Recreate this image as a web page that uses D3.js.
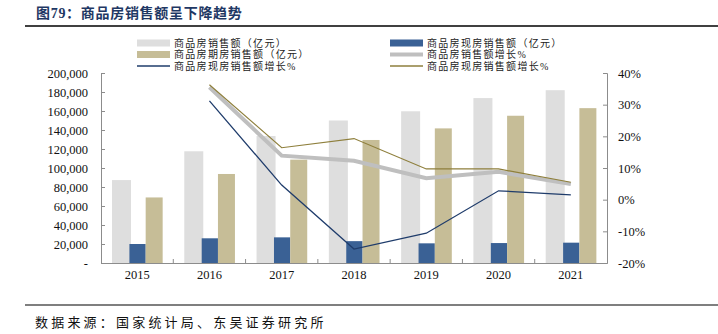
<!DOCTYPE html>
<html>
<head>
<meta charset="utf-8">
<script src="https://cdn.jsdelivr.net/npm/d3@7"></script>
<style>
  body { margin: 0; background: #fff; }
  svg text { font-family: "Liberation Serif", "Noto Sans CJK SC", serif; }
</style>
</head>
<body>
<div id="chart"></div>
<script>
// data
var years = ['2015', '2016', '2017', '2018', '2019', '2020', '2021'];
var totalSales = [87300, 117600, 133700, 150000, 159700, 173600, 181900];
var readySales = [20000, 26000, 27000, 23000, 20700, 21000, 21400];
var presaleSales = [69000, 93700, 108800, 129500, 141700, 155000, 163000];
var totalGrowth = [null, 35.5, 13.9, 12.3, 6.8, 8.8, 4.9];
var presaleGrowth = [null, 36.3, 16.4, 19.3, 9.7, 9.7, 5.5];
var readyGrowth = [null, 31.2, 4.6, -15.6, -10.6, 2.8, 1.5];
var leftTicks = [0, 20000, 40000, 60000, 80000, 100000, 120000, 140000, 160000, 180000, 200000];
var rightTicks = [-20, -10, 0, 10, 20, 30, 40];

var W = 718, H = 334;
var svg = d3.select('#chart').append('svg')
    .attr('width', W)
    .attr('height', H);

var cjk = '"Noto Sans CJK SC", sans-serif';
var mixed = '"Liberation Serif", "Noto Sans CJK SC", serif';

// title + rules
svg.append('text')
    .attr('x', 36).attr('y', 18)
    .attr('font-size', 14).attr('font-weight', 'bold')
    .attr('fill', '#1f3864')
    .attr('letter-spacing', 0.7)
    .style('font-family', mixed)
    .text('图79：商品房销售额呈下降趋势');
svg.append('line').attr('x1', 25).attr('x2', 718).attr('y1', 26).attr('y2', 26)
    .attr('stroke', '#000').attr('stroke-width', 1.5);
svg.append('line').attr('x1', 25).attr('x2', 718).attr('y1', 305).attr('y2', 305)
    .attr('stroke', '#000').attr('stroke-width', 1.2);
svg.append('text')
    .attr('x', 35).attr('y', 327)
    .attr('font-size', 13).attr('fill', '#111')
    .attr('letter-spacing', 3.2)
    .style('font-family', cjk)
    .text('数据来源：国家统计局、东吴证券研究所');

// scales
var x = d3.scaleBand().domain(years).range([101, 607]).padding(0);
var y = d3.scaleLinear().domain([0, 200000]).range([263, 73]);
var y2 = d3.scaleLinear().domain([-20, 40]).range([263, 73]);
var bw = x.bandwidth();

// bars
var barDefs = [
    {data: totalSales, fill: '#dedede', a: 0.152, b: 0.415},
    {data: readySales, fill: '#3a6195', a: 0.393, b: 0.618},
    {data: presaleSales, fill: '#c6bd97', a: 0.618, b: 0.853}
];
barDefs.forEach(function(def){
    svg.append('g').selectAll('rect')
        .data(def.data)
        .enter().append('rect')
        .attr('x', function(d, i){ return x(years[i]) + bw * def.a; })
        .attr('width', bw * (def.b - def.a))
        .attr('y', function(d){ return y(d); })
        .attr('height', function(d){ return y(0) - y(d); })
        .attr('fill', def.fill);
});

// axes
var axisColor = '#8c8c8c';
var left = svg.append('g').attr('transform', 'translate(101,0)')
    .call(d3.axisRight(y).tickValues(leftTicks).tickSize(4)
        .tickFormat(function(d){ return d === 0 ? '-' : d3.format(',')(d); }));
left.select('.domain').attr('stroke', axisColor);
left.selectAll('.tick line').attr('stroke', axisColor);
left.selectAll('.tick text')
    .attr('x', -13).attr('text-anchor', 'end')
    .attr('font-size', 12.5).attr('fill', '#111')
    .style('font-family', '"Liberation Serif", serif');

var right = svg.append('g').attr('transform', 'translate(607,0)')
    .call(d3.axisLeft(y2).tickValues(rightTicks).tickSize(4)
        .tickFormat(function(d){ return d + '%'; }));
right.select('.domain').attr('stroke', axisColor);
right.selectAll('.tick line').attr('stroke', axisColor);
right.selectAll('.tick text')
    .attr('x', 11).attr('text-anchor', 'start')
    .attr('font-size', 12.5).attr('fill', '#111')
    .style('font-family', '"Liberation Serif", serif');

var bottom = svg.append('g').attr('transform', 'translate(0,263)')
    .call(d3.axisBottom(x).tickSize(0));
bottom.select('.domain').attr('stroke', axisColor);
bottom.selectAll('.tick text')
    .attr('dy', '1.15em').attr('y', 2)
    .attr('font-size', 12.5).attr('fill', '#111')
    .style('font-family', '"Liberation Serif", serif');
svg.append('g').selectAll('line')
    .data(years.slice(1))
    .enter().append('line')
    .attr('x1', function(d){ return x(d); })
    .attr('x2', function(d){ return x(d); })
    .attr('y1', 263).attr('y2', 259)
    .attr('stroke', axisColor);

// lines
var line = d3.line()
    .defined(function(d){ return d != null; })
    .x(function(d, i){ return x(years[i]) + bw / 2; })
    .y(function(d){ return y2(d); });
var lineDefs = [
    {data: totalGrowth, stroke: '#bfbfbf', w: 4},
    {data: presaleGrowth, stroke: '#8e7f3c', w: 1.2},
    {data: readyGrowth, stroke: '#1f3c6b', w: 1.3}
];
lineDefs.forEach(function(def){
    svg.append('path')
        .attr('d', line(def.data))
        .attr('fill', 'none')
        .attr('stroke', def.stroke)
        .attr('stroke-width', def.w);
});

// legend
var legend = [
    {x: 137, y: 43, type: 'bar', color: '#dedede', label: '商品房销售额（亿元）'},
    {x: 137, y: 54.5, type: 'bar', color: '#c6bd97', label: '商品房期房销售额（亿元）'},
    {x: 137, y: 66, type: 'line', color: '#1f3c6b', w: 1.5, label: '商品房现房销售额增长%'},
    {x: 390, y: 43, type: 'bar', color: '#3a6195', label: '商品房现房销售额（亿元）'},
    {x: 390, y: 54.5, type: 'line', color: '#bfbfbf', w: 4, label: '商品房销售额增长%'},
    {x: 390, y: 66, type: 'line', color: '#8e7f3c', w: 1.3, label: '商品房现房销售额增长%'}
];
legend.forEach(function(l){
    if(l.type === 'bar'){
        svg.append('rect')
            .attr('x', l.x).attr('y', l.y - 3.5)
            .attr('width', 33).attr('height', 7)
            .attr('fill', l.color);
    }
    else{
        svg.append('line')
            .attr('x1', l.x).attr('x2', l.x + 33)
            .attr('y1', l.y).attr('y2', l.y)
            .attr('stroke', l.color).attr('stroke-width', l.w);
    }
    svg.append('text')
        .attr('x', l.x + 37).attr('y', l.y + 3.5)
        .attr('font-size', 10).attr('fill', '#222')
        .attr('letter-spacing', 1.3)
        .style('font-family', mixed)
        .text(l.label);
});
</script>
</body>
</html>
